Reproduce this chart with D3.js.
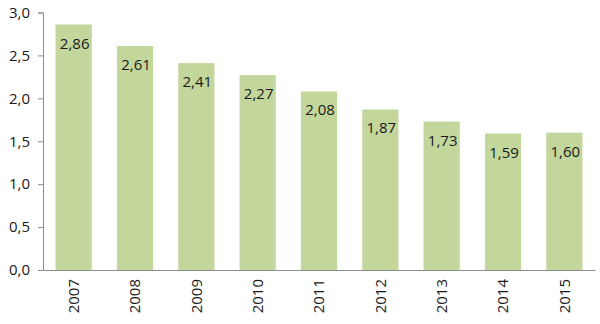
<!DOCTYPE html>
<html>
<head>
<meta charset="utf-8">
<script src="https://cdn.jsdelivr.net/npm/d3@7"></script>
<style>
  html, body { margin: 0; padding: 0; background: #fff; }
  svg { display: block; font-family: "Open Sans", sans-serif; }
</style>
</head>
<body>
<svg id="chart" width="600" height="324"></svg>
<script>
const years = ["2007", "2008", "2009", "2010", "2011", "2012", "2013", "2014", "2015"];
const values = [2.86, 2.61, 2.41, 2.27, 2.08, 1.87, 1.73, 1.59, 1.60];
const yTicks = [0, 0.5, 1, 1.5, 2, 2.5, 3];

(() => {
  const svg = d3.select("#chart");
  const mLeft = 43, mRight = 595, mTop = 12.5, mBottom = 270;
  const fmt = (v, d) => v.toFixed(d).replace(".", ",");

  const x = d3.scaleBand().domain(years).range([mLeft, mRight])
    .paddingInner(0.41).paddingOuter(0.205);
  const y = d3.scaleLinear().domain([0, 3]).range([mBottom, mTop]);

  // bars
  svg.append("g").selectAll("rect").data(values).join("rect")
    .attr("x", (d, i) => x(years[i]))
    .attr("y", d => y(d))
    .attr("width", x.bandwidth())
    .attr("height", d => mBottom - y(d))
    .attr("fill", "#c3d69b");

  // value labels
  svg.append("g").selectAll("text").data(values).join("text")
    .attr("x", (d, i) => x(years[i]) + x.bandwidth() / 2 + 1)
    .attr("y", d => y(d) + 24)
    .attr("text-anchor", "middle")
    .attr("font-size", 15)
    .attr("fill", "#1a1a1a")
    .text(d => fmt(d, 2));

  // y axis
  const yAxis = svg.append("g").attr("transform", `translate(${mLeft},0)`)
    .call(d3.axisLeft(y).tickValues(yTicks).tickSize(5).tickPadding(8).tickFormat(d => fmt(d, 1)));
  yAxis.select(".domain").attr("stroke", "#8c8c8c");
  yAxis.selectAll(".tick line").attr("stroke", "#8c8c8c");
  yAxis.selectAll("text").attr("font-size", 15).attr("fill", "#1a1a1a").attr("font-family", "Open Sans, sans-serif");

  // x axis
  const xAxis = svg.append("g").attr("transform", `translate(0,${mBottom})`)
    .call(d3.axisBottom(x).tickSize(0).tickPadding(0).tickSizeOuter(0));
  xAxis.select(".domain").attr("stroke", "#8c8c8c");
  xAxis.selectAll("text")
    .attr("font-size", 15).attr("fill", "#1a1a1a").attr("font-family", "Open Sans, sans-serif")
    .attr("transform", "rotate(-90)")
    .attr("text-anchor", "end")
    .attr("x", -9).attr("y", 0).attr("dy", "0.35em");
})();
</script>
</body>
</html>
